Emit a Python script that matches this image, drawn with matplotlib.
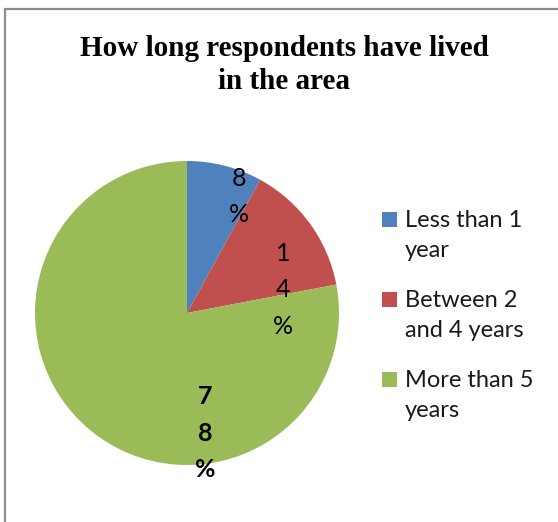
import matplotlib
matplotlib.use("Agg")
import matplotlib.pyplot as plt
from matplotlib.patches import Rectangle
import numpy as np

title = "How long respondents have lived\nin the area"
categories = ["Less than 1\nyear", "Between 2\nand 4 years", "More than 5\nyears"]
values = [8, 14, 78]
pct_labels = ["8\n%", "1\n4\n%", "7\n8\n%"]
colors = ["#4F81BD", "#C0504D", "#9BBB59"]

# label placement (radius fraction, angle in degrees), layout only
label_pos = [(0.84, 66), (0.65, 13.5), (0.80, -81.5)]
label_bold = [False, False, True]

W, H = 558, 522
fig = plt.figure(figsize=(W / 100, H / 100), dpi=100)
fig.patch.set_facecolor("white")

def fx(px):
    return px / W

def fy(py):
    return 1 - py / H

# outer frame (partially cropped as in reference)
fig.add_artist(Rectangle((fx(5), -0.05), 1.2, (H - 8.5) / H + 0.05,
                         transform=fig.transFigure, fill=False,
                         edgecolor="#8c8c8c", linewidth=1.6))

cx, cy, r = 187, 313, 152
ax = fig.add_axes([(cx - r) / W, (H - cy - r) / H, 2 * r / W, 2 * r / H])
wedges, _ = ax.pie(values, colors=colors, startangle=90, counterclock=False,
                   radius=1.0, wedgeprops=dict(linewidth=0))
ax.set_xlim(-1, 1)
ax.set_ylim(-1, 1)
ax.set_aspect("auto")
ax.axis("off")

for lab, (rr, ang), b in zip(pct_labels, label_pos, label_bold):
    t = np.deg2rad(ang)
    ax.text(rr * np.cos(t), rr * np.sin(t), lab, ha="center", va="center",
            fontsize=18, family=["Lato", "DejaVu Sans"],
            fontweight="bold" if b else "normal", linespacing=1.7, color="black")

fig.text(fx(284.5), fy(65), title, ha="center", va="center",
         fontsize=21, family=["Liberation Serif"], fontweight="bold",
         linespacing=1.33)

# legend (drawn manually so the marker aligns with the first text line)
leg_x_box, leg_x_text = 382, 405
leg_base0, entry_step, line_step, box = 227, 80, 30, 15
for i, (cat, col) in enumerate(zip(categories, colors)):
    base = leg_base0 + i * entry_step
    fig.add_artist(Rectangle((fx(leg_x_box), fy(base)), box / W, box / H,
                             transform=fig.transFigure, facecolor=col,
                             edgecolor="none"))
    for j, line in enumerate(cat.split("\n")):
        fig.text(fx(leg_x_text), fy(base + j * line_step), line,
                 ha="left", va="baseline", fontsize=17,
                 family=["Lato", "DejaVu Sans"], color="#1a1a1a")

fig.savefig("out.png", dpi=100)
